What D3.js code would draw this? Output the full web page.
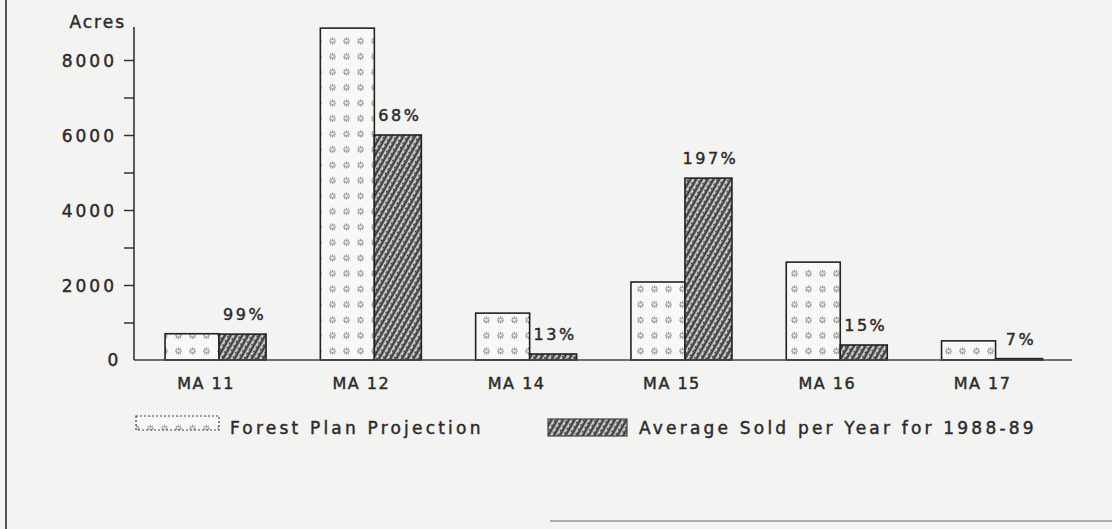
<!DOCTYPE html>
<html>
<head>
<meta charset="utf-8">
<script src="https://cdn.jsdelivr.net/npm/d3@7"></script>
<style>
  body { margin: 0; background: #f3f3f2; }
  svg { display: block; }
  text { font-family: "DejaVu Sans", sans-serif; fill: #2b2b2b; stroke: #2b2b2b; stroke-width: 0.45px; }
</style>
</head>
<body>
<div class="chart-container"></div>
<script>
// Data
const areas = ['MA 11', 'MA 12', 'MA 14', 'MA 15', 'MA 16', 'MA 17'];
const forestPlan = [700, 8850, 1250, 2080, 2610, 510];
const avgSold = [690, 6000, 160, 4850, 400, 36];
const pctLabels = ['99%', '68%', '13%', '197%', '15%', '7%'];
const yTicks = [0, 2000, 4000, 6000, 8000];
const seriesNames = ['Forest Plan Projection', 'Average Sold per Year for 1988-89'];

// Layout
const width = 1112, height = 529;
const plot = { left: 134, right: 1072, top: 27, zero: 360 };
const barW = { forest: 54, avg: 47 };

const svg = d3.select('.chart-container')
    .append('svg')
    .attr('width', width)
    .attr('height', height);

svg.append('rect')
    .attr('width', width)
    .attr('height', height)
    .attr('fill', '#f3f3f2');

// Patterns
const defs = svg.append('defs');

const dots = defs.append('pattern')
    .attr('id', 'pat-forest')
    .attr('patternUnits', 'userSpaceOnUse')
    .attr('width', 14).attr('height', 15.5)
    .attr('x', 3).attr('y', 4);
dots.append('rect').attr('width', 14).attr('height', 15.5).attr('fill', '#f8f8f7');
dots.append('path')
    .attr('d', 'M4,6 h7 M7.5,2.5 v7 M5,3.5 l5,5 M10,3.5 l-5,5')
    .attr('stroke', '#8a8a8a')
    .attr('stroke-width', 1.1);
dots.append('circle').attr('cx', 7.5).attr('cy', 6).attr('r', 1.3).attr('fill', '#f8f8f7');

const hatch = defs.append('pattern')
    .attr('id', 'pat-avg')
    .attr('patternUnits', 'userSpaceOnUse')
    .attr('width', 5).attr('height', 5)
    .attr('patternTransform', 'rotate(-60)');
hatch.append('rect').attr('width', 5).attr('height', 5).attr('fill', '#d2d2d2');
hatch.append('line')
    .attr('x1', 0).attr('y1', 2.5).attr('x2', 5).attr('y2', 2.5)
    .attr('stroke', '#333')
    .attr('stroke-width', 2.3);
hatch.append('circle').attr('cx', 2.5).attr('cy', 0.3).attr('r', 0.9).attr('fill', '#222');

// Scales
const y = d3.scaleLinear().domain([0, 8000]).range([plot.zero, plot.zero - 300]);

const x = d3.scaleBand()
    .domain(areas)
    .range([141.4, 141.4 + 155.3 * areas.length])
    .padding(0);
const mid = d => x(d) + x.bandwidth() / 2;

// Scan border lines
svg.append('line')
    .attr('x1', 6).attr('x2', 6).attr('y1', 0).attr('y2', height)
    .attr('stroke', '#555').attr('stroke-width', 2);
svg.append('line')
    .attr('x1', 550).attr('x2', width).attr('y1', 521).attr('y2', 521)
    .attr('stroke', '#999').attr('stroke-width', 1.5);

// Y axis
const yAxis = d3.axisLeft(y)
    .tickValues(d3.range(1000, 9000, 1000))
    .tickSize(10)
    .tickFormat(d => yTicks.includes(d) ? d : '');

const gy = svg.append('g')
    .attr('transform', `translate(${plot.left},0)`)
    .call(yAxis);
gy.select('.domain').remove();
gy.selectAll('.tick line').attr('stroke', '#333').attr('stroke-width', 1.5);
gy.selectAll('.tick text')
    .attr('x', -17)
    .attr('dy', '0.36em')
    .style('font-size', '17px')
    .style('letter-spacing', '3px')
    .attr('fill', '#2b2b2b');
gy.append('line')
    .attr('y1', plot.top).attr('y2', plot.zero)
    .attr('stroke', '#333').attr('stroke-width', 1.6);

svg.append('text')
    .attr('x', 126).attr('y', 28)
    .attr('text-anchor', 'end')
    .style('font-size', '17px')
    .style('letter-spacing', '2px')
    .text('Acres');

svg.append('text')
    .attr('x', 113).attr('y', plot.zero + 6)
    .attr('text-anchor', 'middle')
    .style('font-size', '17px')
    .text(0);

// Bars
const groups = svg.selectAll('.area-group')
    .data(areas)
    .enter()
    .append('g')
    .attr('class', 'area-group');

groups.append('rect')
    .attr('class', 'bar-forest')
    .attr('x', d => mid(d) - barW.forest)
    .attr('y', (d, i) => y(forestPlan[i]))
    .attr('width', barW.forest)
    .attr('height', (d, i) => plot.zero - y(forestPlan[i]))
    .attr('fill', 'url(#pat-forest)')
    .attr('stroke', '#222')
    .attr('stroke-width', 1.6);

groups.append('rect')
    .attr('class', 'bar-avg')
    .attr('x', d => mid(d))
    .attr('y', (d, i) => y(avgSold[i]))
    .attr('width', barW.avg)
    .attr('height', (d, i) => plot.zero - y(avgSold[i]))
    .attr('fill', 'url(#pat-avg)')
    .attr('stroke', '#222')
    .attr('stroke-width', 1.6);

groups.append('text')
    .attr('x', d => mid(d) + barW.avg / 2 + 2)
    .attr('y', (d, i) => y(avgSold[i]) - 14)
    .attr('text-anchor', 'middle')
    .style('font-size', '16px')
    .style('letter-spacing', '2.5px')
    .text((d, i) => pctLabels[i]);

// Baseline
svg.append('line')
    .attr('x1', plot.left).attr('x2', plot.right)
    .attr('y1', plot.zero).attr('y2', plot.zero)
    .attr('stroke', '#444').attr('stroke-width', 1.5);

// Category labels
groups.append('text')
    .attr('x', d => mid(d) - 13)
    .attr('y', 389)
    .attr('text-anchor', 'middle')
    .style('font-size', '16px')
    .style('letter-spacing', '1.5px')
    .text(d => d);

// Legend
const legend = [
    { x: 136, y: 416, w: 83, h: 14, fill: 'url(#pat-forest)', dash: '2,2', tx: 230 },
    { x: 548, y: 419, w: 79, h: 17, fill: 'url(#pat-avg)', dash: null, tx: 639 }
];
const lg = svg.selectAll('.legend-item')
    .data(legend)
    .enter()
    .append('g')
    .attr('class', 'legend-item');
lg.append('rect')
    .attr('x', d => d.x).attr('y', d => d.y)
    .attr('width', d => d.w).attr('height', d => d.h)
    .attr('fill', d => d.fill)
    .attr('stroke', '#444')
    .attr('stroke-width', 1.2)
    .attr('stroke-dasharray', d => d.dash);
lg.append('text')
    .attr('x', d => d.tx)
    .attr('y', 434)
    .style('font-size', '17px')
    .style('letter-spacing', '3.2px')
    .text((d, i) => seriesNames[i]);
</script>
</body>
</html>
